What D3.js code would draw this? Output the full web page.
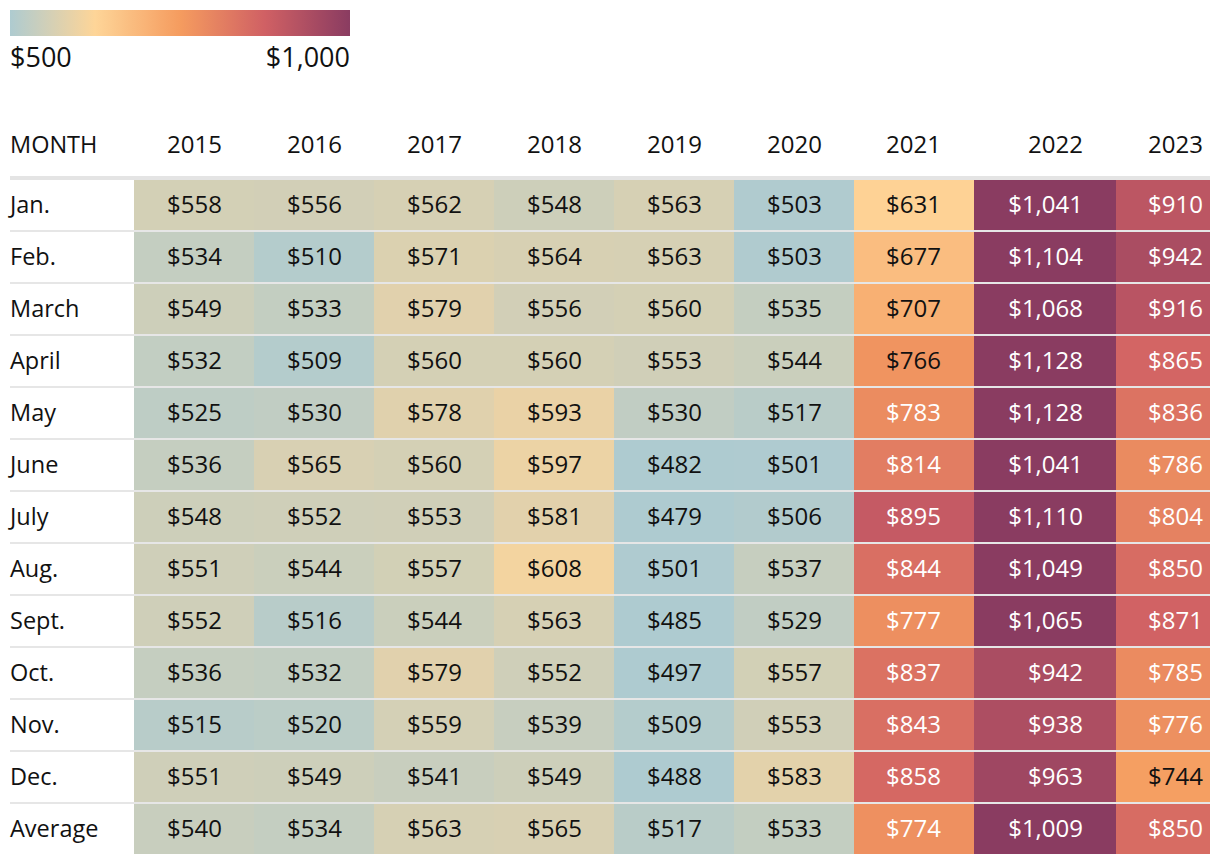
<!DOCTYPE html>
<html>
<head>
<meta charset="utf-8">
<script src="https://cdn.jsdelivr.net/npm/d3@7"></script>
<style>
  body { margin: 0; background: #fff; }
  svg { display: block; font-family: "Open Sans", sans-serif; }
</style>
</head>
<body>
<div id="chart"></div>
<script>
// Row labels and column headers
const months = ['Jan.', 'Feb.', 'March', 'April', 'May', 'June', 'July', 'Aug.', 'Sept.', 'Oct.', 'Nov.', 'Dec.', 'Average'];
const years = ['2015', '2016', '2017', '2018', '2019', '2020', '2021', '2022', '2023'];

// Monthly values per year (last entry = average)
const v2015 = [558, 534, 549, 532, 525, 536, 548, 551, 552, 536, 515, 551, 540];
const v2016 = [556, 510, 533, 509, 530, 565, 552, 544, 516, 532, 520, 549, 534];
const v2017 = [562, 571, 579, 560, 578, 560, 553, 557, 544, 579, 559, 541, 563];
const v2018 = [548, 564, 556, 560, 593, 597, 581, 608, 563, 552, 539, 549, 565];
const v2019 = [563, 563, 560, 553, 530, 482, 479, 501, 485, 497, 509, 488, 517];
const v2020 = [503, 503, 535, 544, 517, 501, 506, 537, 529, 557, 553, 583, 533];
const v2021 = [631, 677, 707, 766, 783, 814, 895, 844, 777, 837, 843, 858, 774];
const v2022 = [1041, 1104, 1068, 1128, 1128, 1041, 1110, 1049, 1065, 942, 938, 963, 1009];
const v2023 = [910, 942, 916, 865, 836, 786, 804, 850, 871, 785, 776, 744, 850];

const series = [v2015, v2016, v2017, v2018, v2019, v2020, v2021, v2022, v2023];

// Legend domain
const legendTicks = [500, 1000];

const width = 1220, height = 866;

const svg = d3.select('#chart')
  .append('svg')
  .attr('width', width)
  .attr('height', height);

// Color scale
const colorStops = ['#aecbd0', '#fed598', '#f59c5f', '#d06064', '#8a3c61'];
const color = d3.scaleLinear()
  .domain(d3.range(colorStops.length).map(i => 500 + i * 125))
  .range(colorStops)
  .clamp(true);

// Legend
const legendX = d3.scaleLinear().domain(legendTicks).range([10, 350]);
const grad = svg.append('defs').append('linearGradient').attr('id', 'grad');
grad.selectAll('stop')
  .data(d3.range(0, 1.0001, 0.05))
  .join('stop')
  .attr('offset', d => d)
  .attr('stop-color', d => color(500 + d * 500));
svg.append('rect')
  .attr('x', legendX(500)).attr('y', 10)
  .attr('width', legendX(1000) - legendX(500)).attr('height', 26)
  .attr('fill', 'url(#grad)');
svg.selectAll('.legend-label')
  .data(legendTicks)
  .join('text')
  .attr('x', d => legendX(d))
  .attr('y', 67)
  .attr('text-anchor', (d, i) => i === 0 ? 'start' : 'end')
  .attr('font-size', 27)
  .attr('fill', '#111')
  .text(d => d3.format('$,')(d));

// Column layout (edges of each year column)
const colEdges = [134, 254, 374, 494, 614, 734, 854, 974, 1116, 1210];
const textRight = [222, 342, 462, 582, 702, 822, 941, 1083, 1203];
const colX = d3.scaleOrdinal().domain(years).range(colEdges.slice(0, -1));
const colW = d3.scaleOrdinal().domain(years).range(colEdges.slice(1).map((e, i) => e - colEdges[i]));
const colText = d3.scaleOrdinal().domain(years).range(textRight);

// Row layout
const rowY = d3.scaleBand().domain(months).range([180, 180 + 52 * months.length]).paddingInner(0);
const cellH = 50;

// Header
svg.append('text')
  .attr('x', 10).attr('y', 153)
  .attr('font-size', 23.5).attr('fill', '#111')
  .text('MONTH');
svg.selectAll('.year')
  .data(years)
  .join('text')
  .attr('x', d => colText(d))
  .attr('y', 153)
  .attr('text-anchor', 'end')
  .attr('font-size', 24).attr('fill', '#111')
  .text(d => d);

// header rule
svg.append('rect')
  .attr('x', 10).attr('y', 176)
  .attr('width', 1200).attr('height', 4)
  .attr('fill', '#e4e4e4');

// row separators
svg.selectAll('.sep')
  .data(months.slice(1))
  .join('rect')
  .attr('x', 10).attr('y', d => rowY(d) - 2)
  .attr('width', 1200).attr('height', 2)
  .attr('fill', '#e6e6e6');

// Rows
const rows = svg.selectAll('.row')
  .data(months)
  .join('g')
  .attr('transform', d => `translate(0,${rowY(d)})`);

rows.append('text')
  .attr('x', 10).attr('y', cellH / 2)
  .attr('dy', '0.35em')
  .attr('font-size', 23.5).attr('fill', '#111')
  .text(d => d);

const cells = rows.selectAll('.cell')
  .data((m, i) => years.map((y, j) => ({ year: y, value: series[j][i] })))
  .join('g');

cells.append('rect')
  .attr('x', d => colX(d.year))
  .attr('width', d => colW(d.year))
  .attr('height', cellH)
  .attr('fill', d => color(d.value));

cells.append('text')
  .attr('x', d => colText(d.year))
  .attr('y', cellH / 2)
  .attr('dy', '0.35em')
  .attr('text-anchor', 'end')
  .attr('font-size', 24)
  .attr('fill', d => d.value > 770 ? '#fff' : '#111')
  .text(d => d3.format('$,')(d.value));
</script>
</body>
</html>
